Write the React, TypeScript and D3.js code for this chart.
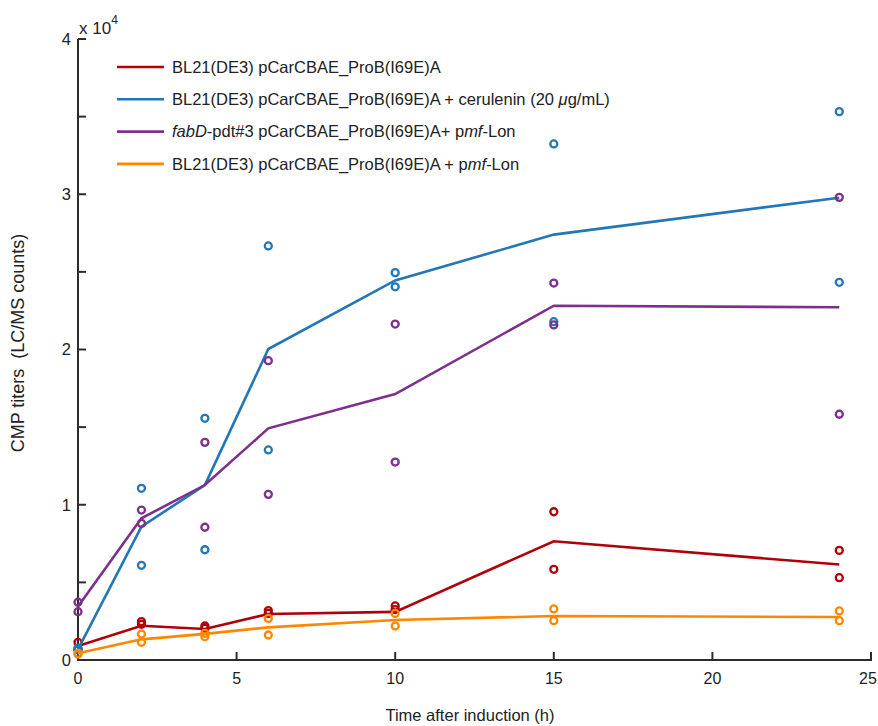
import React from "react";
import * as d3 from "d3";

const times = [0, 2, 4, 6, 10, 15, 24];

const redMean = [900, 2210, 2000, 2960, 3100, 7650, 6150];
const redRep1 = [1140, 2470, 2190, 3180, 3480, 9550, 7060];
const redRep2 = [700, 2300, 2040, 3000, 3250, 5840, 5300];

const blueMean = [680, 8590, 11270, 20030, 24450, 27400, 29780];
const blueRep1 = [750, 11060, 15570, 26670, 24950, 33240, 35320];
const blueRep2 = [650, 6100, 7100, 13530, 24040, 21790, 24330];

const purpleMean = [3440, 9130, 11270, 14920, 17130, 22820, 22720];
const purpleRep1 = [3720, 9660, 14020, 19280, 21640, 24280, 29800];
const purpleRep2 = [3110, 8800, 8550, 10670, 12750, 21580, 15830];

const orangeMean = [430, 1330, 1680, 2100, 2580, 2830, 2770];
const orangeRep1 = [430, 1670, 1720, 2680, 3000, 3290, 3160];
const orangeRep2 = [380, 1140, 1500, 1610, 2190, 2530, 2530];

const xTicks = [0, 5, 10, 15, 20, 25];
const yTicks = [0, 5000, 10000, 15000, 20000, 25000, 30000, 35000, 40000];
const yTickLabels = ["0", "", "1", "", "2", "", "3", "", "4"];

const series = [
  { color: "#B0000A", mean: redMean, reps: [redRep1, redRep2] },
  { color: "#2277B6", mean: blueMean, reps: [blueRep1, blueRep2] },
  { color: "#7E2F8E", mean: purpleMean, reps: [purpleRep1, purpleRep2] },
  { color: "#FF8700", mean: orangeMean, reps: [orangeRep1, orangeRep2] },
];

const FONT = "'Liberation Sans', Arial, Helvetica, sans-serif";

export default function App() {
  const W = 878, H = 726;
  const x = d3.scaleLinear().domain([0, 25]).range([78, 871]);
  const y = d3.scaleLinear().domain([0, 40000]).range([660, 39]);
  const line = d3
    .line<number>()
    .x((_, i) => x(times[i]))
    .y((d) => y(d));

  const legendRows = [
    <>BL21(DE3) pCarCBAE_ProB(I69E)A</>,
    <>
      BL21(DE3) pCarCBAE_ProB(I69E)A + cerulenin (20 <tspan fontStyle="italic">μ</tspan>g/mL)
    </>,
    <>
      <tspan fontStyle="italic">fabD</tspan>-pdt#3 pCarCBAE_ProB(I69E)A+ p<tspan fontStyle="italic">mf</tspan>-Lon
    </>,
    <>
      BL21(DE3) pCarCBAE_ProB(I69E)A + p<tspan fontStyle="italic">mf</tspan>-Lon
    </>,
  ];

  return (
    <svg
      width={W}
      height={H}
      style={{ position: "absolute", left: 0, top: 0, background: "#fff" }}
      fontFamily={FONT}
    >
      {/* axes */}
      <line x1={x(0)} x2={x(0)} y1={y(0) + 1} y2={y(40000)} stroke="#2b2b2b" strokeWidth={2} />
      <line x1={x(0) - 1} x2={x(25) + 1} y1={y(0)} y2={y(0)} stroke="#2b2b2b" strokeWidth={2} />
      {yTicks.map((t, i) => (
        <g key={"yt" + i}>
          <line x1={x(0)} x2={x(0) + 8} y1={y(t)} y2={y(t)} stroke="#2b2b2b" strokeWidth={2} />
          {yTickLabels[i] && (
            <text x={x(0) - 7} y={y(t)} dy="0.36em" textAnchor="end" fontSize={16.5} fill="#222">
              {yTickLabels[i]}
            </text>
          )}
        </g>
      ))}
      {xTicks.map((t) => (
        <g key={"xt" + t}>
          <line x1={x(t)} x2={x(t)} y1={y(0)} y2={y(0) - 8} stroke="#2b2b2b" strokeWidth={2} />
          <text x={Math.min(x(t), 868)} y={y(0) + 24} textAnchor="middle" fontSize={16} fill="#222">
            {t}
          </text>
        </g>
      ))}
      <text x={79} y={34} fontSize={17} fill="#222">
        x 10
        <tspan fontSize={12} dy={-10}>4</tspan>
      </text>
      <text x={470} y={721} textAnchor="middle" fontSize={16.5} fill="#222">
        Time after induction (h)
      </text>
      <text
        transform={`translate(24,343) rotate(-90)`}
        textAnchor="middle"
        fontSize={18}
        fill="#222"
        style={{ whiteSpace: "pre" }}
      >
        {"CMP titers\u00A0\u00A0(LC/MS counts)"}
      </text>

      {/* series */}
      {series.map((s, si) => (
        <g key={"s" + si}>
          <path d={line(s.mean) || ""} fill="none" stroke={s.color} strokeWidth={2.6} />
          {s.reps.map((r, ri) =>
            r.map((v, i) => (
              <circle
                key={`c${si}-${ri}-${i}`}
                cx={x(times[i])}
                cy={y(v)}
                r={3.5}
                fill="none"
                stroke={s.color}
                strokeWidth={2.3}
              />
            ))
          )}
        </g>
      ))}

      {/* legend */}
      {series.map((s, i) => (
        <g key={"lg" + i} transform={`translate(0,${67 + i * 32.3})`}>
          <line x1={117} x2={164} y1={0} y2={0} stroke={s.color} strokeWidth={2.6} />
          <text x={172} y={0} dy="0.35em" fontSize={16.5} fill="#222">
            {legendRows[i]}
          </text>
        </g>
      ))}
    </svg>
  );
}
